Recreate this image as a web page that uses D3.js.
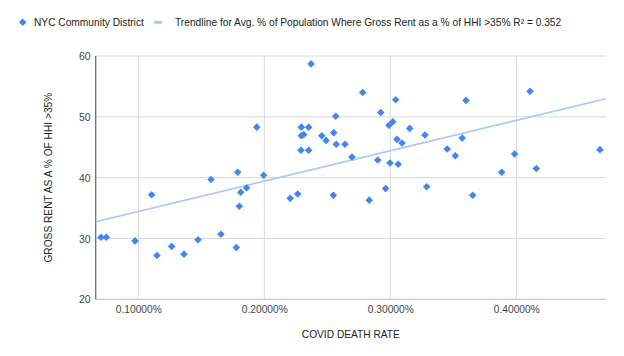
<!DOCTYPE html>
<html><head><meta charset="utf-8">
<script src="https://cdn.jsdelivr.net/npm/d3@7"></script>
<style>
html,body{margin:0;padding:0;background:#fff;}
svg{display:block;font-family:"Liberation Sans",Arial,sans-serif;}
</style></head>
<body>
<svg id="chart" width="624" height="356"></svg>
<script>
// COVID death rate (%) per NYC community district
const deathRate = [0.0704,0.0746,0.0974,0.1106,0.1148,0.1265,0.1363,0.1474,0.1577,0.1656,
  0.1778,0.1789,0.1802,0.1813,0.1860,0.1940,0.1995,0.2206,0.2265,0.2294,
  0.2313,0.2294,0.2291,0.2352,0.2352,0.2371,0.2456,0.2490,0.2551,0.2567,
  0.2571,0.2548,0.2640,0.2696,0.2781,0.2833,0.2900,0.2924,0.2963,0.2990,
  0.3020,0.2998,0.3043,0.3053,0.3063,0.3093,0.3154,0.3275,0.3289,0.3452,
  0.3516,0.3571,0.3601,0.3654,0.3884,0.3987,0.4109,0.4159,0.4664];
// Avg % of population where gross rent > 35% of HHI
const rentBurden = [30.2,30.2,29.6,37.2,27.2,28.7,27.4,29.8,39.7,30.7,
  28.5,40.9,35.3,37.6,38.3,48.3,40.4,36.6,37.3,46.9,
  47.1,48.3,44.5,48.3,44.5,58.7,46.9,46.1,47.4,50.1,
  45.5,37.1,45.5,43.4,54.0,36.3,42.9,50.7,38.2,48.6,
  49.2,42.4,52.8,46.3,42.2,45.7,48.1,47.0,38.5,44.7,
  43.6,46.5,52.7,37.1,40.9,43.9,54.2,41.5,44.6];
const xTicks = [0.1,0.2,0.3,0.4];
const yTicks = [20,30,40,50,60];
const xRange = [0.0662,0.4712];
const yRange = [20,60];
const seriesName = "NYC Community District";
const trendName = "Trendline for Avg. % of Population Where Gross Rent as a % of HHI >35% R\u00B2 = 0.352";
const xTitle = "COVID DEATH RATE";
const yTitle = "GROSS RENT AS A % OF HHI >35%";

const svg = d3.select("#chart");
const m = {left:95.7, right:606, top:56, bottom:299.3};
const x = d3.scaleLinear().domain(xRange).range([m.left,m.right]);
const y = d3.scaleLinear().domain(yRange).range([m.bottom,m.top]);
const blue = "#4285F4", trendColor = "#A8C7FA";

// gridlines
svg.append("g").selectAll("line").data(yTicks.filter(d=>d>yRange[0])).join("line")
  .attr("x1",m.left).attr("x2",m.right).attr("y1",d=>y(d)).attr("y2",d=>y(d))
  .attr("stroke","#d9d9d9").attr("stroke-width",1);
svg.append("g").selectAll("line").data(xTicks).join("line")
  .attr("y1",m.top).attr("y2",m.bottom).attr("x1",d=>x(d)).attr("x2",d=>x(d))
  .attr("stroke","#d9d9d9").attr("stroke-width",1);
// baselines
svg.append("line").attr("x1",m.left).attr("x2",m.right).attr("y1",y(yRange[0])).attr("y2",y(yRange[0]))
  .attr("stroke","#bdbdbd").attr("stroke-width",1);
svg.append("line").attr("x1",m.left).attr("x2",m.left).attr("y1",m.top).attr("y2",m.bottom)
  .attr("stroke","#6d6d6d").attr("stroke-width",1.3);

// axes labels via d3 axes
const xAxis = d3.axisBottom(x).tickValues(xTicks).tickSize(0).tickPadding(0)
  .tickFormat(d=>d.toFixed(5)+"%");
const gx = svg.append("g").attr("transform",`translate(0,${m.bottom+14})`).call(xAxis);
gx.select(".domain").remove();
gx.selectAll("text").attr("font-size","10.2px").attr("fill","#444").attr("dy","0");
const yAxis = d3.axisLeft(y).tickValues(yTicks).tickSize(0).tickPadding(0);
const gy = svg.append("g").attr("transform",`translate(${m.left-5},0)`).call(yAxis);
gy.select(".domain").remove();
gy.selectAll("text").attr("font-size","10.5px").attr("fill","#444").attr("dy","0.35em");

// trendline from linear regression
const n = deathRate.length;
const mx = d3.mean(deathRate), my = d3.mean(rentBurden);
let sxy=0,sxx=0;
for(let i=0;i<n;i++){sxy+=(deathRate[i]-mx)*(rentBurden[i]-my);sxx+=(deathRate[i]-mx)**2;}
const slope=sxy/sxx, icpt=my-slope*mx;
svg.append("line")
  .attr("x1",x(xRange[0])).attr("y1",y(icpt+slope*xRange[0]))
  .attr("x2",x(xRange[1])).attr("y2",y(icpt+slope*xRange[1]))
  .attr("stroke",trendColor).attr("stroke-width",1.6);

// points
const dia = r => `M0,${-r}L${r},0L0,${r}L${-r},0Z`;
svg.append("g").selectAll("path").data(d3.range(n)).join("path")
  .attr("d",dia(3.8))
  .attr("transform",i=>`translate(${x(deathRate[i])},${y(rentBurden[i])})`)
  .attr("fill",blue);

// titles
svg.append("text").attr("x",(m.left+m.right)/2).attr("y",338).attr("text-anchor","middle")
  .attr("font-size","10.2px").attr("fill","#222").text(xTitle);
svg.append("text").attr("transform",`translate(51.5,${(m.top+m.bottom)/2}) rotate(-90)`)
  .attr("text-anchor","middle").attr("font-size","10.2px").attr("fill","#222").text(yTitle);

// legend
const lg = svg.append("g");
lg.append("path").attr("d",dia(3.8)).attr("transform","translate(22.7,22.3)").attr("fill",blue);
lg.append("text").attr("x",34).attr("y",22.3).attr("dy","0.35em").attr("font-size","10.2px")
  .attr("fill","#222").text(seriesName);
lg.append("line").attr("x1",154).attr("x2",162).attr("y1",22.3).attr("y2",22.3)
  .attr("stroke",trendColor).attr("stroke-width",3);
lg.append("text").attr("x",175).attr("y",22.3).attr("dy","0.35em").attr("font-size","10.2px")
  .attr("fill","#222").text(trendName);
</script>
</body></html>
